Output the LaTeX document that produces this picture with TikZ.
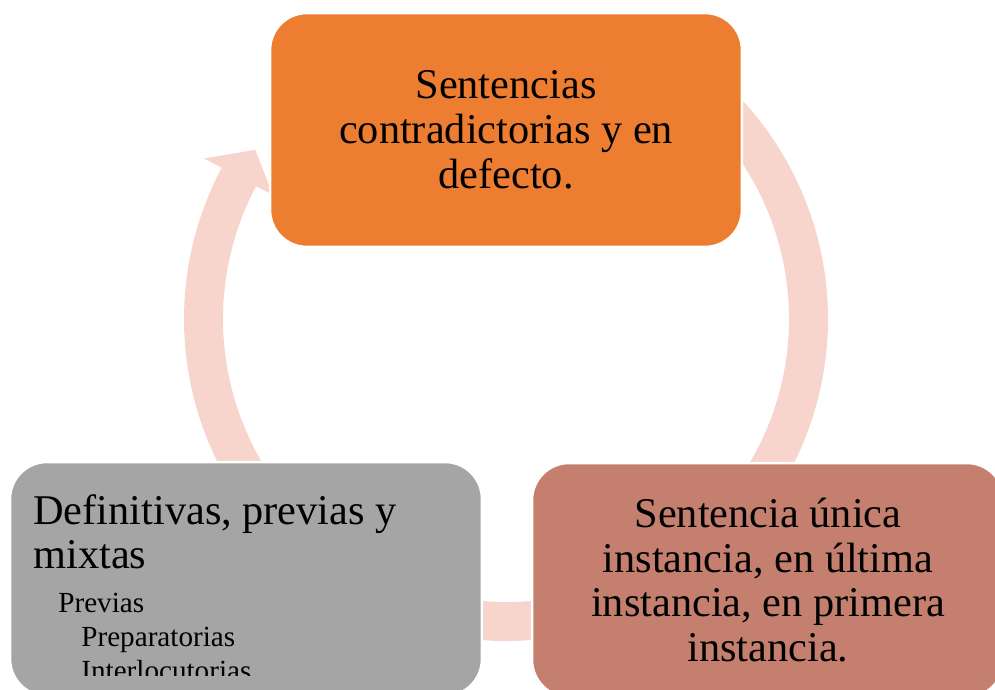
\documentclass[tikz,border=0pt]{standalone}
\usepackage{fontspec}
\setmainfont{Liberation Serif}
\usepackage{tikz}

\definecolor{boxorange}{HTML}{ED7D31}
\definecolor{boxgrey}{HTML}{A5A5A5}
\definecolor{boxrose}{HTML}{C47F6F}
\definecolor{ringpink}{HTML}{F8D5CC}

\tikzset{
  stage/.style={draw=white, line width=0.05cm, rounded corners=0.74cm,
    minimum width=9.44cm, minimum height=4.68cm, inner sep=0pt},
  bigtext/.style={font=\fontsize{24.1}{25.5}\selectfont, inner sep=0pt},
  subitem/.style={font=\fontsize{16.6}{19.4}\selectfont, inner sep=0pt, anchor=base west},
}

\begin{document}
\begin{tikzpicture}[x=0.02cm,y=0.02cm]
  \useasboundingbox (0,0) rectangle (995,690);
  % circular arrow behind the boxes
  \begin{scope}[shift={(506,371)}]
    \fill[ringpink] (60:322) arc[start angle=60, end angle=-40, radius=322]
      -- (-40:283) arc[start angle=-40, end angle=60, radius=283] -- cycle;
    \fill[ringpink] (-70:322) arc[start angle=-70, end angle=-110, radius=322]
      -- (-110:283) arc[start angle=-110, end angle=-70, radius=283] -- cycle;
    \fill[ringpink] (220:322) arc[start angle=220, end angle=152, radius=322]
      -- (152:342) -- (146:302.5) -- (152:264)
      -- (152:283) arc[start angle=152, end angle=220, radius=283] -- cycle;
  \end{scope}
  % the three boxes
  \node[stage, fill=boxorange, bigtext, align=center] (contra) at (506,560)
    {Sentencias\\contradictorias y en\\defecto.};
  \node[stage, fill=boxrose, bigtext, align=center] (unica) at (768,110)
    {Sentencia única\\instancia, en última\\instancia, en primera\\instancia.};
  \node[stage, fill=boxgrey] (defin) at (246,111) {};
  \node[bigtext, align=left, anchor=north west] (defintitle) at (33,196)
    {Definitivas, previas y\\mixtas};
  \begin{scope}
    \clip (10,14) rectangle (482,228);
    \node[subitem] (previas) at (58,77) {Previas};
    \node[subitem] (prepar) at (81,43) {Preparatorias};
    \node[subitem] (interloc) at (81,9) {Interlocutorias};
  \end{scope}
\end{tikzpicture}
\end{document}
